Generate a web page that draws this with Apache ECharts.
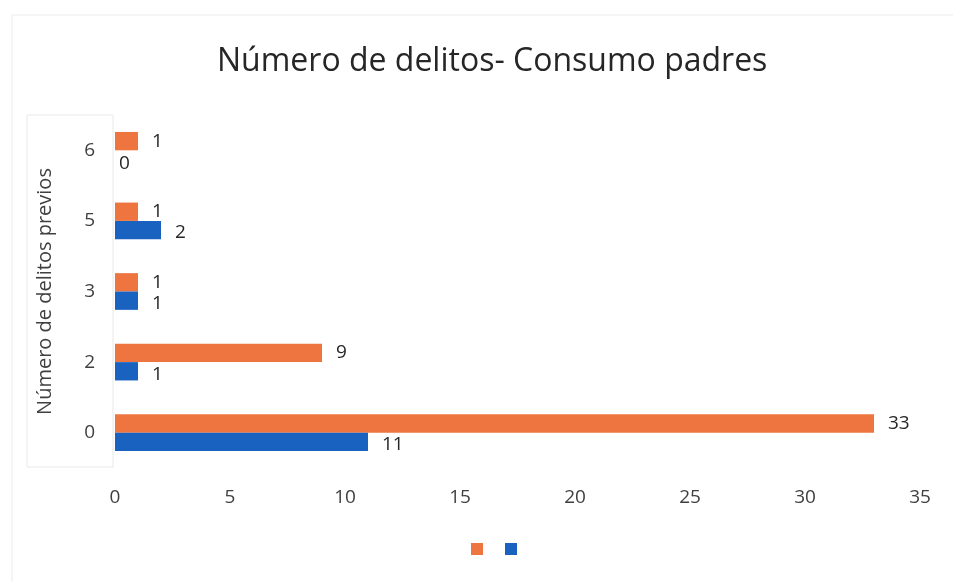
<!DOCTYPE html>
<html>
<head>
<meta charset="utf-8">
<script src="https://cdn.jsdelivr.net/npm/echarts@6/dist/echarts.min.js"></script>
<style>
  html, body { margin: 0; padding: 0; background: #fff; }
  #main { width: 953px; height: 582px; }
</style>
</head>
<body>
<div id="main"></div>
<script>
// datos
var categorias = ["0", "2", "3", "5", "6"];
var serieNaranja = [33, 9, 1, 1, 1];
var serieAzul = [11, 1, 1, 2, 0];
var ticksX = [0, 5, 10, 15, 20, 25, 30, 35];

var chart = echarts.init(document.getElementById("main"));

var labelBase = {
  show: true,
  position: "right",
  distance: 14,
  fontSize: 19,
  color: "#262626",
  fontFamily: "Open Sans"
};

var option = {
  backgroundColor: "#fff",
  title: {
    text: "Número de delitos- Consumo padres",
    left: 212,
    top: 41,
    textStyle: {
      fontSize: 32,
      fontWeight: "normal",
      color: "#262626",
      fontFamily: "Open Sans"
    }
  },
  legend: {
    bottom: 22,
    left: 466,
    itemWidth: 12,
    itemHeight: 12,
    itemGap: 22,
    icon: "rect",
    formatter: function () { return ""; },
    data: ["Serie 1", "Serie 2"]
  },
  grid: {
    left: 115,
    right: 33,
    top: 115,
    bottom: 114
  },
  xAxis: {
    type: "value",
    min: ticksX[0],
    max: ticksX[ticksX.length - 1],
    interval: 5,
    splitLine: { show: false },
    axisLine: { show: false },
    axisTick: { show: false },
    axisLabel: {
      margin: 20,
      fontSize: 19,
      color: "#404040",
      fontFamily: "Open Sans"
    }
  },
  yAxis: {
    type: "category",
    data: categorias,
    name: "Número de delitos previos",
    nameLocation: "middle",
    nameGap: 60,
    nameRotate: 90,
    nameTextStyle: {
      fontSize: 20,
      color: "#404040",
      fontFamily: "Open Sans"
    },
    axisLine: { show: false },
    axisTick: { show: false },
    axisLabel: {
      margin: 20,
      fontSize: 19,
      color: "#404040",
      fontFamily: "Open Sans"
    }
  },
  graphic: [
    {
      type: "rect",
      shape: { x: 27, y: 115, width: 86, height: 352 },
      style: { fill: "none", stroke: "#e8e8e8", lineWidth: 1 },
      z: -1
    },
    {
      type: "rect",
      shape: { x: 12, y: 15, width: 960, height: 600 },
      style: { fill: "none", stroke: "#ececec", lineWidth: 1 },
      z: -1
    }
  ],
  series: [
    {
      name: "Serie 1",
      type: "bar",
      data: serieNaranja,
      itemStyle: { color: "#EE7440" },
      barGap: "0%",
      barCategoryGap: "48%",
      label: Object.assign({}, labelBase, { offset: [0, 0] })
    },
    {
      name: "Serie 2",
      type: "bar",
      data: serieAzul.map(function (v) {
        return v === 0 ? { value: v, label: { distance: 4, offset: [0, 4] } } : v;
      }),
      itemStyle: { color: "#1A62BF" },
      label: Object.assign({}, labelBase, { offset: [0, 3] })
    }
  ]
};

chart.setOption(option);
</script>
</body>
</html>
